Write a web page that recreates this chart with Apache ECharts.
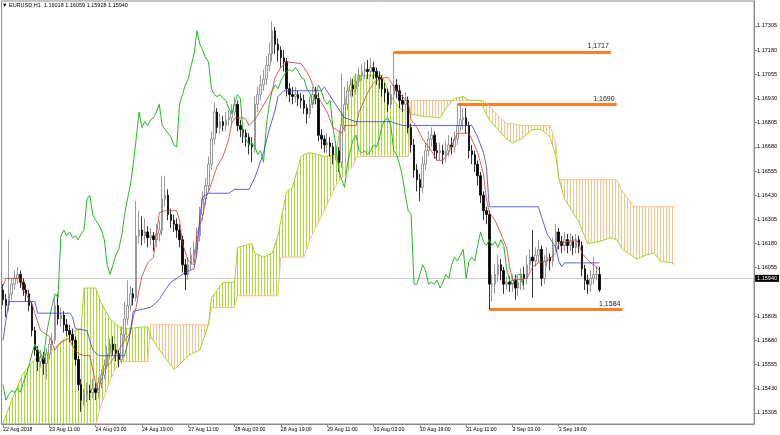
<!DOCTYPE html>
<html><head><meta charset="utf-8">
<script src="https://cdn.jsdelivr.net/npm/echarts@6/dist/echarts.min.js"></script>
<style>html,body{margin:0;padding:0;background:#fff}#c{width:780px;height:435px}</style>
</head><body><div id="c"></div>
<script>
const titleText = '\u25BC EURUSD,H1  1.16018 1.16059 1.15928 1.15940';
const tickLabels = ['22 Aug 2018','23 Aug 11:00','24 Aug 03:00','24 Aug 19:00','27 Aug 11:00','28 Aug 03:00','28 Aug 19:00','29 Aug 11:00','30 Aug 03:00','30 Aug 19:00','31 Aug 11:00','3 Sep 03:00','3 Sep 19:00'];
const yTicks = [1.15305,1.15430,1.15555,1.15680,1.15805,1.16055,1.16180,1.16305,1.16430,1.16555,1.16680,1.16805,1.16930,1.17055,1.17180,1.17305];
const lastPrice = 1.15940;

const opens = [1.1594,1.1589,1.1586,1.1592,1.1597,1.1600,1.1602,1.1598,1.1594,1.1592,
1.1586,1.1573,1.1563,1.1557,1.1559,1.1556,1.1561,1.1566,1.1568,1.1586,
1.1579,1.1581,1.1576,1.1573,1.1571,1.1568,1.1558,1.1545,1.1537,1.1540,
1.1542,1.1541,1.1543,1.1541,1.1546,1.1550,1.1555,1.1561,1.1566,1.1563,
1.1561,1.1558,1.1571,1.1579,1.1586,1.1592,1.1590,1.1622,1.1625,1.1622,
1.1624,1.1621,1.1622,1.1620,1.1623,1.1625,1.1641,1.1643,1.1633,1.1630,
1.1628,1.1625,1.1620,1.1607,1.1602,1.1607,1.1612,1.1615,1.1622,1.1633,
1.1641,1.1648,1.1659,1.1672,1.1686,1.1678,1.1681,1.1679,1.1682,1.1683,
1.1686,1.1690,1.1679,1.1677,1.1675,1.1673,1.1669,1.1668,1.1690,1.1695,
1.1700,1.1703,1.1710,1.1716,1.1728,1.1721,1.1718,1.1714,1.1712,1.1698,
1.1695,1.1694,1.1695,1.1693,1.1692,1.1688,1.1685,1.1690,1.1695,1.1693,
1.1674,1.1672,1.1669,1.1670,1.1668,1.1664,1.1666,1.1660,1.1679,1.1690,
1.1697,1.1700,1.1698,1.1702,1.1705,1.1707,1.1708,1.1707,1.1709,1.1707,
1.1704,1.1703,1.1698,1.1696,1.1690,1.1695,1.1700,1.1697,1.1692,1.1690,
1.1692,1.1678,1.1669,1.1656,1.1651,1.1647,1.1659,1.1666,1.1672,1.1674,
1.1666,1.1665,1.1666,1.1664,1.1666,1.1669,1.1668,1.1672,1.1679,1.1682,
1.1683,1.1679,1.1666,1.1664,1.1659,1.1653,1.1643,1.1635,1.1633,1.1597,
1.1597,1.1602,1.1607,1.1604,1.1597,1.1598,1.1597,1.1599,1.1595,1.1598,
1.1602,1.1600,1.1607,1.1611,1.1609,1.1612,1.1615,1.1600,1.1609,1.1611,
1.1609,1.1617,1.1624,1.1619,1.1617,1.1620,1.1617,1.1619,1.1616,1.1620,
1.1617,1.1605,1.1599,1.1597,1.1600,1.1602,1.1602];

const closes = [1.1589,1.1586,1.1592,1.1597,1.1600,1.1602,1.1598,1.1594,1.1592,1.1586,
1.1573,1.1563,1.1557,1.1559,1.1556,1.1561,1.1566,1.1568,1.1586,1.1579,
1.1581,1.1576,1.1573,1.1571,1.1568,1.1558,1.1545,1.1537,1.1540,1.1542,
1.1541,1.1543,1.1541,1.1546,1.1550,1.1555,1.1561,1.1566,1.1563,1.1561,
1.1558,1.1571,1.1579,1.1586,1.1592,1.1590,1.1622,1.1625,1.1622,1.1624,
1.1621,1.1622,1.1620,1.1623,1.1625,1.1641,1.1643,1.1633,1.1630,1.1628,
1.1625,1.1620,1.1607,1.1602,1.1607,1.1612,1.1615,1.1622,1.1633,1.1641,
1.1648,1.1659,1.1672,1.1686,1.1678,1.1681,1.1679,1.1682,1.1683,1.1686,
1.1690,1.1679,1.1677,1.1675,1.1673,1.1669,1.1668,1.1690,1.1695,1.1700,
1.1703,1.1710,1.1716,1.1728,1.1721,1.1718,1.1714,1.1712,1.1698,1.1695,
1.1694,1.1695,1.1693,1.1692,1.1688,1.1685,1.1690,1.1695,1.1693,1.1674,
1.1672,1.1669,1.1670,1.1668,1.1664,1.1666,1.1660,1.1679,1.1690,1.1697,
1.1700,1.1698,1.1702,1.1705,1.1707,1.1708,1.1707,1.1709,1.1707,1.1704,
1.1703,1.1698,1.1696,1.1690,1.1695,1.1700,1.1697,1.1692,1.1690,1.1692,
1.1678,1.1669,1.1656,1.1651,1.1647,1.1659,1.1666,1.1672,1.1674,1.1666,
1.1665,1.1666,1.1664,1.1666,1.1669,1.1668,1.1672,1.1679,1.1682,1.1683,
1.1679,1.1666,1.1664,1.1659,1.1653,1.1643,1.1635,1.1633,1.1597,1.1597,
1.1602,1.1607,1.1604,1.1597,1.1598,1.1597,1.1599,1.1595,1.1598,1.1602,
1.1600,1.1607,1.1611,1.1609,1.1612,1.1615,1.1600,1.1609,1.1611,1.1609,
1.1617,1.1624,1.1619,1.1617,1.1620,1.1617,1.1619,1.1616,1.1620,1.1617,
1.1605,1.1599,1.1597,1.1600,1.1602,1.1602,1.1594];

const highs = [1.1597,1.1592,1.1620,1.1600,1.1604,1.1606,1.1604,1.1600,1.1597,1.1594,
1.1588,1.1575,1.1565,1.1563,1.1562,1.1564,1.1569,1.1572,1.1590,1.1592,
1.1585,1.1583,1.1579,1.1576,1.1574,1.1570,1.1560,1.1548,1.1543,1.1546,
1.1545,1.1548,1.1546,1.1549,1.1553,1.1558,1.1565,1.1569,1.1570,1.1566,
1.1563,1.1575,1.1588,1.1599,1.1596,1.1595,1.1640,1.1635,1.1632,1.1631,
1.1627,1.1626,1.1624,1.1628,1.1630,1.1653,1.1653,1.1646,1.1636,1.1633,
1.1631,1.1628,1.1622,1.1610,1.1611,1.1616,1.1619,1.1626,1.1637,1.1645,
1.1652,1.1663,1.1676,1.1691,1.1688,1.1685,1.1684,1.1686,1.1687,1.1690,
1.1694,1.1692,1.1682,1.1679,1.1677,1.1675,1.1673,1.1694,1.1699,1.1705,
1.1708,1.1715,1.1722,1.1733,1.1730,1.1724,1.1720,1.1718,1.1714,1.1701,
1.1699,1.1699,1.1697,1.1696,1.1695,1.1690,1.1694,1.1699,1.1699,1.1696,
1.1677,1.1674,1.1675,1.1673,1.1670,1.1670,1.1668,1.1706,1.1699,1.1702,
1.1704,1.1703,1.1706,1.1709,1.1711,1.1712,1.1713,1.1714,1.1712,1.1709,
1.1707,1.1705,1.1701,1.1698,1.1700,1.1717,1.1703,1.1700,1.1695,1.1696,
1.1694,1.1680,1.1672,1.1659,1.1654,1.1663,1.1670,1.1676,1.1678,1.1676,
1.1670,1.1670,1.1669,1.1671,1.1674,1.1673,1.1676,1.1690,1.1690,1.1688,
1.1688,1.1681,1.1669,1.1666,1.1661,1.1655,1.1645,1.1637,1.1635,1.1602,
1.1607,1.1612,1.1610,1.1606,1.1601,1.1601,1.1602,1.1602,1.1601,1.1605,
1.1606,1.1612,1.1615,1.1625,1.1616,1.1620,1.1617,1.1612,1.1616,1.1613,
1.1621,1.1628,1.1626,1.1622,1.1624,1.1623,1.1623,1.1622,1.1623,1.1622,
1.1619,1.1607,1.1602,1.1604,1.1611,1.1606,1.1606];

const lows = [1.1586,1.1580,1.1583,1.1589,1.1594,1.1597,1.1595,1.1591,1.1588,1.1583,
1.1570,1.1560,1.1552,1.1554,1.1550,1.1548,1.1558,1.1563,1.1566,1.1576,
1.1575,1.1572,1.1570,1.1567,1.1565,1.1555,1.1542,1.1531,1.1534,1.1536,
1.1537,1.1538,1.1537,1.1538,1.1543,1.1548,1.1553,1.1558,1.1560,1.1557,
1.1554,1.1556,1.1568,1.1576,1.1583,1.1586,1.1588,1.1618,1.1617,1.1618,
1.1616,1.1617,1.1614,1.1616,1.1619,1.1622,1.1637,1.1630,1.1626,1.1624,
1.1621,1.1616,1.1603,1.1594,1.1599,1.1604,1.1608,1.1612,1.1619,1.1630,
1.1638,1.1645,1.1656,1.1669,1.1675,1.1675,1.1676,1.1676,1.1679,1.1680,
1.1684,1.1676,1.1673,1.1670,1.1668,1.1664,1.1660,1.1665,1.1686,1.1692,
1.1697,1.1700,1.1707,1.1712,1.1716,1.1712,1.1709,1.1707,1.1694,1.1691,
1.1690,1.1691,1.1689,1.1688,1.1685,1.1680,1.1683,1.1688,1.1690,1.1671,
1.1667,1.1665,1.1665,1.1663,1.1659,1.1661,1.1655,1.1657,1.1676,1.1687,
1.1694,1.1694,1.1695,1.1699,1.1702,1.1703,1.1703,1.1704,1.1703,1.1700,
1.1698,1.1694,1.1691,1.1686,1.1688,1.1692,1.1693,1.1688,1.1686,1.1687,
1.1675,1.1665,1.1652,1.1645,1.1640,1.1644,1.1656,1.1663,1.1668,1.1662,
1.1661,1.1661,1.1659,1.1660,1.1663,1.1664,1.1665,1.1669,1.1676,1.1677,
1.1675,1.1662,1.1659,1.1655,1.1648,1.1639,1.1630,1.1628,1.1584,1.1588,
1.1592,1.1598,1.1599,1.1592,1.1594,1.1593,1.1593,1.1589,1.1591,1.1594,
1.1596,1.1597,1.1604,1.1590,1.1606,1.1608,1.1596,1.1597,1.1606,1.1604,
1.1606,1.1614,1.1615,1.1613,1.1614,1.1613,1.1614,1.1612,1.1613,1.1613,
1.1601,1.1594,1.1592,1.1593,1.1597,1.1599,1.1593];

// Tenkan-sen (bar index, price)
const tenkan = [[0,1.1596],[1,1.1600],[6,1.1600],[7,1.1594],[10,1.1587],[11,1.1582],[13,1.1573],[16,1.1570],[18,1.1563],[20,1.1567],[23,1.1569],[24,1.1565],[26,1.1561],[28,1.1560],[30,1.1560],[32,1.1546],[33,1.1542],[35,1.1553],[37,1.1556],[40,1.1563],[44,1.1572],[45,1.1580],[46,1.1585],[47,1.1594],[48,1.1601],[50,1.1608],[52,1.1611],[54,1.1634],[56,1.1635],[60,1.1635],[61,1.1630],[62,1.1618],[64,1.1609],[66,1.1607],[67,1.1623],[69,1.1632],[70,1.1641],[72,1.1649],[74,1.1658],[76,1.1663],[78,1.1672],[79,1.1680],[80,1.1683],[83,1.1683],[84,1.1682],[85,1.1679],[87,1.1682],[89,1.1687],[91,1.1692],[93,1.1697],[94,1.1704],[96,1.1709],[98,1.1712],[103,1.1711],[104,1.1709],[106,1.1704],[108,1.1696],[110,1.1691],[112,1.1686],[114,1.1678],[117,1.1675],[118,1.1679],[122,1.1679],[123,1.1686],[126,1.1696],[128,1.1701],[130,1.1703],[133,1.1704],[135,1.1699],[136,1.1697],[138,1.1694],[140,1.1691],[141,1.1682],[143,1.1678],[145,1.1672],[148,1.1666],[150,1.1661],[152,1.1661],[154,1.1665],[156,1.1672],[157,1.1675],[161,1.1675],[162,1.1672],[164,1.1665],[166,1.1654],[167,1.1641],[168,1.1634],[170,1.1630],[172,1.1623],[174,1.1616],[175,1.1606],[176,1.1599],[181,1.1600],[183,1.1606],[185,1.1608],[188,1.1609],[191,1.1613],[192,1.1618],[198,1.1620],[199,1.1618],[200,1.1613],[203,1.1608],[205,1.1606],[206,1.1604]];
// Kijun-sen
const kijun = [[0,1.1568],[2,1.1588],[11,1.1588],[12,1.1582],[23,1.1582],[24,1.1580],[25,1.1574],[29,1.1573],[31,1.1563],[33,1.1560],[42,1.1560],[43,1.1566],[44,1.1572],[45,1.1583],[51,1.1585],[54,1.1589],[56,1.1594],[58,1.1598],[60,1.1600],[63,1.1603],[66,1.1605],[67,1.1613],[68,1.1632],[69,1.1642],[71,1.1644],[78,1.1644],[80,1.1646],[85,1.1646],[87,1.1652],[90,1.1665],[92,1.1677],[94,1.1687],[95,1.1694],[97,1.1697],[110,1.1697],[111,1.1699],[114,1.1692],[118,1.1683],[122,1.1681],[134,1.1681],[138,1.1679],[162,1.1679],[164,1.1673],[166,1.1665],[167,1.1658],[168,1.1637],[185,1.1637],[186,1.1632],[188,1.1623],[191,1.1616],[192,1.1609],[193,1.1606],[194,1.1608],[206,1.1608]];
// Kumo rows: [bar index, Senkou Span A, Senkou Span B]
const kumo = [[0,1.1525,1.1515],[3,1.1537,1.1515],[7,1.1551,1.1515],[11,1.1558,1.1515],[17,1.1563,1.1515],[23,1.1571,1.1515],[25,1.1573,1.1515],[27,1.1574,1.1515],
[28,1.1595,1.1518],[32,1.1595,1.1524],[34,1.1587,1.1535],[37,1.1579,1.1547],[40,1.1575,1.1557],[42,1.1574,1.1557],[50,1.1575,1.1557],
[51,1.1570,1.1576],[54,1.1563,1.1576],[59,1.1553,1.1576],[60,1.1554,1.1576],[64,1.1560,1.1576],[68,1.1563,1.1576],[71,1.1576,1.1576],
[72,1.1590,1.1585],[76,1.1598,1.1585],[80,1.1598,1.1585],
[81,1.1616,1.1591],[86,1.1618,1.1591],[87,1.1613,1.1591],[90,1.1611,1.1591],[93,1.1613,1.1591],[95,1.1622,1.1591],
[96,1.1630,1.1611],[98,1.1645,1.1611],[100,1.1647,1.1611],[103,1.1663,1.1611],[104,1.1664,1.1611],
[106,1.1665,1.1620],[111,1.1663,1.1635],[115,1.1664,1.1648],[117,1.1682,1.1652],[119,1.1697,1.1655],[121,1.1704,1.1658],
[122,1.1705,1.1663],[131,1.1705,1.1663],[133,1.1697,1.1663],[134,1.1694,1.1663],[137,1.1688,1.1663],[140,1.1686,1.1663],
[141,1.1685,1.1692],[144,1.1684,1.1692],[151,1.1683,1.1692],[153,1.1688,1.1692],[156,1.1693,1.1692],[159,1.1694,1.1692],[161,1.1692,1.1692],[165,1.1692,1.1692],[166,1.1688,1.1692],
[168,1.1682,1.1689],[171,1.1677,1.1684],[174,1.1672,1.1680],[176,1.1670,1.1680],[179,1.1672,1.1679],[183,1.1677,1.1679],[186,1.1677,1.1679],[189,1.1673,1.1679],
[191,1.1663,1.1670],[192,1.1652,1.1651],[194,1.1641,1.1651],[197,1.1634,1.1651],[199,1.1629,1.1651],[202,1.1618,1.1651],[206,1.1619,1.1651],[210,1.1621,1.1651],[212,1.1620,1.1651],
[214,1.1615,1.1645],[218,1.1611,1.1637],[219,1.1610,1.1637],[222,1.1612,1.1637],[225,1.1613,1.1637],[227,1.1609,1.1637],[231,1.1608,1.1637],[232,1.1607,1.1637]];
// Horizontal levels: [price, from bar, to bar]
const levels = [[1.1717,135,210],[1.1690,157,212],[1.1584,168,214]];
const chikouShift = 26;
const slotCount = 260;

const slots = [];
for (let i = 0; i < slotCount; i++) slots.push(i);
const candles = opens.map((o, i) => [o, closes[i], lows[i], highs[i]]);
const chikou = [];
for (let i = 0; i + chikouShift < closes.length; i++) chikou.push([i, closes[i + chikouShift]]);

function hatch(color) {
  const c = document.createElement('canvas');
  c.width = 3; c.height = 4;
  const g = c.getContext('2d');
  g.fillStyle = color; g.fillRect(0, 0, 1, 4);
  return {image: c, repeat: 'repeat'};
}
const greenFill = hatch('#a9dc2c');
const peachFill = hatch('#f7c48e');
const FONT = 'Liberation Sans';
const showTick = (i) => i % 16 === 0 && i / 16 < tickLabels.length;

const chart = echarts.init(document.getElementById('c'), null, {renderer: 'canvas'});
chart.setOption({
  animation: false,
  backgroundColor: '#fff',
  title: {text: titleText, left: 2, top: 2, padding: 0,
    textStyle: {fontSize: 5.5, fontWeight: 'normal', color: '#000', fontFamily: FONT}},
  grid: {left: 0, right: 25, top: 1, bottom: 11, show: true, borderColor: '#8a8a8a', borderWidth: 1, backgroundColor: 'transparent'},
  xAxis: {
    type: 'category', data: slots, boundaryGap: true,
    axisLine: {show: true, lineStyle: {color: '#8a8a8a', width: 1}},
    axisTick: {show: true, alignWithLabel: true, interval: (i) => showTick(i), length: 3, lineStyle: {color: '#8a8a8a'}},
    axisLabel: {interval: (i) => showTick(i), formatter: (v, i) => tickLabels[i / 16] || '', align: 'left',
      fontSize: 5.2, margin: 3, color: '#000', fontFamily: FONT},
    splitLine: {show: false}
  },
  yAxis: {
    type: 'value', position: 'right', min: 1.15247, max: 1.17434, scale: true,
    axisLine: {show: true, lineStyle: {color: '#8a8a8a', width: 1}},
    axisTick: {show: true, length: 3, customValues: yTicks, lineStyle: {color: '#8a8a8a'}},
    axisLabel: {customValues: yTicks, formatter: (v) => v.toFixed(5), fontSize: 5.5, margin: 3, color: '#000', fontFamily: FONT},
    splitLine: {show: false}
  },
  series: [
    {
      type: 'custom', name: 'kumo', silent: true, clip: true, z: 1,
      data: [[0, kumo[0][1]]],
      renderItem: function (params, api) {
        const a = [], b = [], m = [];
        kumo.forEach(function (r) {
          a.push(api.coord([r[0], r[1]]));
          b.push(api.coord([r[0], r[2]]));
          m.push(api.coord([r[0], Math.min(r[1], r[2])]));
        });
        const rev = m.slice().reverse();
        return {type: 'group', children: [
          {type: 'polygon', shape: {points: a.concat(rev)}, style: {fill: greenFill, stroke: null}},
          {type: 'polygon', shape: {points: b.concat(rev)}, style: {fill: peachFill, stroke: null}}
        ]};
      }
    },
    {type: 'line', name: 'spanB', data: kumo.map(r => [r[0], r[2]]), symbol: 'none', silent: true, z: 2,
      lineStyle: {color: '#f5c08a', width: 1}},
    {type: 'line', name: 'spanA', data: kumo.map(r => [r[0], r[1]]), symbol: 'none', silent: true, z: 2,
      lineStyle: {color: '#a3d62a', width: 1}},
    {
      type: 'candlestick', name: 'EURUSD', data: candles, barWidth: 2, z: 3, silent: true,
      itemStyle: {color: '#ffffff', color0: '#000000', borderColor: '#808080', borderColor0: '#000000', borderWidth: 0.8},
      markLine: {
        symbol: ['none', 'none'], silent: true, animation: false, z: 2,
        data: [
          {yAxis: lastPrice, lineStyle: {color: '#cccccc', width: 1, type: 'solid'},
            label: {show: true, position: 'end', formatter: lastPrice.toFixed(5), color: '#fff', backgroundColor: '#000',
              fontSize: 5.5, padding: [1, 2, 0, 2], distance: 1, fontFamily: FONT}}
        ].concat(levels.map(l => [
          {coord: [l[1], l[0]], lineStyle: {color: '#ff7f27', width: 3, type: 'solid'},
            label: {show: true, position: 'insideEndTop', formatter: l[0].toFixed(4).replace('.', ','), color: '#222',
              fontSize: 7, distance: 2, fontFamily: FONT}},
          {coord: [l[2], l[0]]}
        ]))
      }
    },
    {type: 'line', name: 'chikou', data: chikou, symbol: 'none', silent: true, z: 4, lineStyle: {color: '#24bb24', width: 1}},
    {type: 'line', name: 'tenkan', data: tenkan, symbol: 'none', silent: true, z: 5, lineStyle: {color: '#d23a3a', width: 0.8}},
    {type: 'line', name: 'kijun', data: kijun, symbol: 'none', silent: true, z: 5, lineStyle: {color: '#3a3ad0', width: 0.8}}
  ]
});
</script></body></html>
